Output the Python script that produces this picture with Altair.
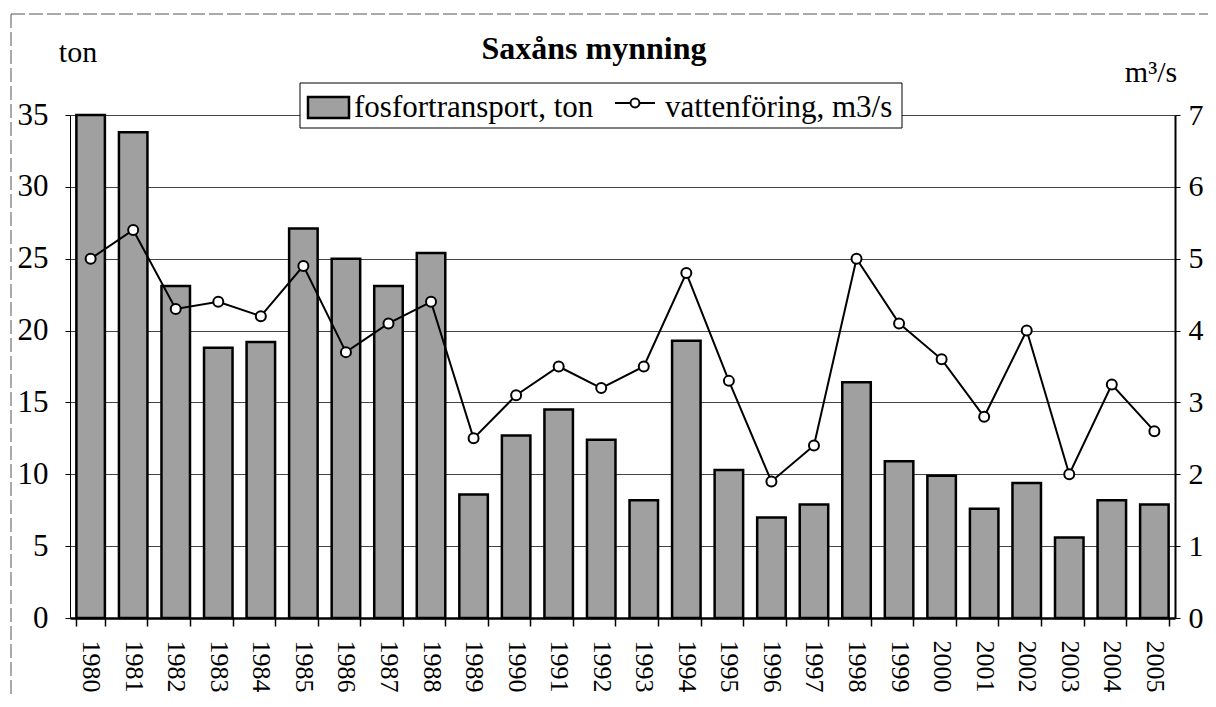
import altair as alt
import pandas as pd

years = [str(y) for y in range(1980, 2006)]
fosfor = [35.0, 33.8, 23.1, 18.8, 19.2, 27.1, 25.0, 23.1, 25.4, 8.6, 12.7, 14.5, 12.4,
          8.2, 19.3, 10.3, 7.0, 7.9, 16.4, 10.9, 9.9, 7.6, 9.4, 5.6, 8.2, 7.9]
flow = [5.0, 5.4, 4.3, 4.4, 4.2, 4.9, 3.7, 4.1, 4.4, 2.5, 3.1, 3.5, 3.2,
        3.5, 4.8, 3.3, 1.9, 2.4, 5.0, 4.1, 3.6, 2.8, 4.0, 2.0, 3.25, 2.6]
left_ticks = [0, 5, 10, 15, 20, 25, 30, 35]
right_ticks = [0, 1, 2, 3, 4, 5, 6, 7]

title_text = "Saxåns mynning"
left_unit = "ton"
right_unit = "m³/s"
legend_bar = "fosfortransport, ton"
legend_line = "vattenföring, m3/s"

df = pd.DataFrame({"year": years, "fosfor": fosfor, "flow": flow})

FONT = "Liberation Serif"
X0, Y0 = 70, 115  # plot origin on page

xenc = alt.X("year:N", sort=years,
             scale=alt.Scale(paddingInner=0.33, paddingOuter=0.15),
             axis=alt.Axis(title=None, labelAngle=90, labelFontSize=26, labelFont=FONT,
                           labelColor="black", tickBand="extent", tickSize=8,
                           tickColor="black", tickWidth=1.5, domainColor="black",
                           domainWidth=2.5, labelPadding=14, grid=False))

bars = alt.Chart(df).mark_bar(fill="#a0a0a0", stroke="black", strokeWidth=2.5).encode(
    x=xenc,
    y=alt.Y("fosfor:Q", scale=alt.Scale(domain=[0, 35], nice=False, clamp=True),
            axis=alt.Axis(title=None, values=left_ticks, orient="left", labelFontSize=31,
                          labelFont=FONT, labelColor="black", tickSize=5, tickColor="black",
                          domainColor="black", domainWidth=1, labelPadding=17,
                          grid=True, gridColor="#444444", gridWidth=1)),
)

line = alt.Chart(df).mark_line(color="black", strokeWidth=2).encode(
    x=alt.X("year:N", sort=years),
    y=alt.Y("flow:Q", scale=alt.Scale(domain=[0, 7], nice=False),
            axis=alt.Axis(title=None, values=right_ticks, orient="right", labelFontSize=30,
                          labelFont=FONT, labelColor="black", tickSize=5, tickColor="black",
                          domainColor="black", domainWidth=2, labelPadding=8, grid=False)),
)

pts = alt.Chart(df).mark_point(shape="circle", size=100, filled=True, fill="white",
                               stroke="black", strokeWidth=2, opacity=1).encode(
    x=alt.X("year:N", sort=years),
    y=alt.Y("flow:Q", scale=alt.Scale(domain=[0, 7], nice=False), axis=None),
)

one = alt.Data(values=[{"k": 1}])

def rect(x1, y1, x2, y2, **kw):
    return alt.Chart(one).mark_rect(**kw).encode(
        x=alt.value(x1 - X0), x2=alt.value(x2 - X0),
        y=alt.value(y1 - Y0), y2=alt.value(y2 - Y0))

def text(t, x, y, size, align="left", weight="normal"):
    return alt.Chart(one).mark_text(text=t, font=FONT, fontSize=size, align=align,
                                    baseline="alphabetic", fontWeight=weight,
                                    color="black").encode(
        x=alt.value(x - X0), y=alt.value(y - Y0))

def rule(x1, y1, x2, y2, **kw):
    return alt.Chart(one).mark_rule(**kw).encode(
        x=alt.value(x1 - X0), x2=alt.value(x2 - X0),
        y=alt.value(y1 - Y0), y2=alt.value(y2 - Y0))

# outer (scanned) chart border
border_l = rule(11, 14, 11, 707, color="#555555", strokeWidth=1, strokeDash=[14, 4])
border_t = rule(11, 14, 1216, 14, color="#555555", strokeWidth=1, strokeDash=[14, 4])

legend_box = rect(300, 83, 902, 128, fill="white", stroke="black", strokeWidth=1)
legend_swatch = rect(308, 97, 349, 118, fill="#a0a0a0", stroke="black", strokeWidth=2.5)
legend_t1 = text(legend_bar, 354, 117, 31)
legend_rule = rule(615, 103, 655, 103, color="black", strokeWidth=2)
legend_pt = alt.Chart(one).mark_point(shape="circle", size=80, filled=True, fill="white",
                                      stroke="black", strokeWidth=2, opacity=1).encode(
    x=alt.value(635 - X0), y=alt.value(103 - Y0))
legend_t2 = text(legend_line, 665, 117, 31)

title = text(title_text, 594, 59, 32, align="center", weight="bold")
ton = text(left_unit, 78, 62, 30, align="center")
m3s = text(right_unit, 1151, 82, 30, align="center")

chart = alt.layer(
    border_l, border_t, bars, line, pts,
    legend_box, legend_swatch, legend_t1, legend_rule, legend_pt, legend_t2,
    title, ton, m3s,
).resolve_scale(y="independent").properties(
    width=1105, height=503,
    padding={"left": 62, "top": 107, "right": 33, "bottom": 76},
    autosize=alt.AutoSizeParams(type="none"),
    background="white",
).configure_view(stroke="black", strokeWidth=1.5).configure(font=FONT)

chart.save("out.html", embed_options={"renderer": "svg", "actions": False})
